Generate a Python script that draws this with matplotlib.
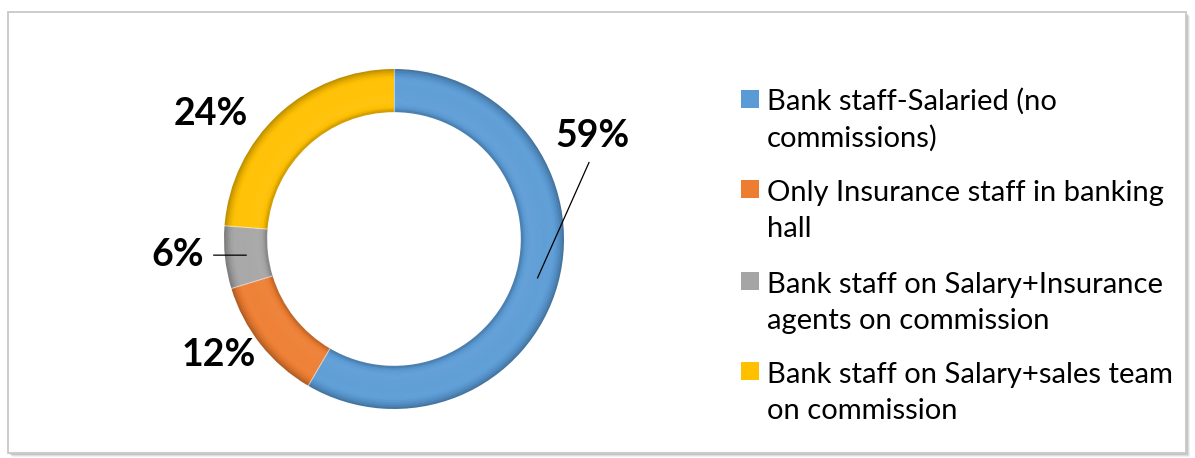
import matplotlib
matplotlib.use("Agg")
import matplotlib.pyplot as plt
from matplotlib.patches import Rectangle
import matplotlib.colors as mcolors
import numpy as np

# Distribution of bancassurance sales staffing models
categories = [
    "Bank staff-Salaried (no\ncommissions)",
    "Only Insurance staff in banking\nhall",
    "Bank staff on Salary+Insurance\nagents on commission",
    "Bank staff on Salary+sales team\non commission",
]
shares = [59, 12, 6, 24]
colors = ["#5B9BD5", "#ED7D31", "#A5A5A5", "#FFC000"]

W, H = 1195, 458
fig = plt.figure(figsize=(W / 100, H / 100), dpi=100)
fig.patch.set_facecolor("white")

def px(x, y):
    """Pixel (from top-left) to figure fraction."""
    return x / W, 1 - y / H

# chart frame with soft shadow
for k, a in enumerate([0.10, 0.16, 0.25]):
    off = 4 - k
    fig.patches.append(Rectangle(px(8 + off, 453 + off), (1178) / W, (441) / H,
                                 transform=fig.transFigure, facecolor="#7f7f7f",
                                 edgecolor="none", alpha=a, zorder=0))
fig.patches.append(Rectangle(px(8, 453), 1178 / W, 441 / H, transform=fig.transFigure,
                             facecolor="white", edgecolor="#C8C8C8", lw=1.3, zorder=1))

# donut axes: centre (394, 239) px, outer radius 170 px
cx, cy, R = 394, 239, 170
x0, y0 = px(cx - R, cy + R)
ax = fig.add_axes([x0, y0, 2 * R / W, 2 * R / H])
ax.set_aspect("equal")
ax.axis("off")
ax.set_zorder(2)

ring = 0.25
inner = 1 - ring

def shade(c, f):
    rgb = np.array(mcolors.to_rgb(c))
    if f >= 1:
        rgb = rgb + (1 - rgb) * (f - 1)
    else:
        rgb = rgb * f
    return tuple(np.clip(rgb, 0, 1))

# bevelled ring: concentric bands with a radial light profile
n = 24
profile_t = [0.0, 0.08, 0.2, 0.5, 0.75, 0.88, 1.0]   # 0 = inner edge, 1 = outer edge
profile_f = [0.78, 0.97, 1.06, 1.03, 1.04, 0.92, 0.72]
for i in range(n):
    t0 = i / n
    t_mid = 1 - (i + 0.5) / n
    f = np.interp(t_mid, profile_t, profile_f)
    r_out = 1 - t0 * ring
    ax.pie(shares, radius=r_out, startangle=90, counterclock=False,
           colors=[shade(c, f) for c in colors],
           wedgeprops=dict(width=ring / n + 0.004, linewidth=0))
ax.set_xlim(-1, 1)
ax.set_ylim(-1, 1)

# thin separators between slices
fracs = np.array(shares) / np.sum(shares)
bounds = 90 - 360 * np.concatenate([[0], np.cumsum(fracs)])
for b in bounds[:-1]:
    th = np.deg2rad(b)
    ax.plot([inner * np.cos(th), np.cos(th)], [inner * np.sin(th), np.sin(th)],
            color="white", lw=0.8, alpha=0.5)

# percentage labels
mids = 90 - 360 * (np.cumsum(fracs) - fracs / 2)
rm = 1 - ring / 2
label_pos = [(1.165, 0.605), (-1.03, -0.68), (-1.275, -0.095), (-1.08, 0.735)]
leader = [(1.147, 0.45), None, (-1.06, -0.095), None]
for v, m, (lx, ly), ld in zip(shares, mids, label_pos, leader):
    ax.text(lx, ly, f"{v}%", ha="center", va="center", fontsize=27,
            fontweight="bold", family="Lato", color="black", clip_on=False)
    if ld is not None:
        th = np.deg2rad(m)
        ax.plot([ld[0], rm * np.cos(th)], [ld[1], rm * np.sin(th)],
                color="black", lw=0.9, clip_on=False, zorder=5)

# legend
sq = 18
line_gap = 39
entry_tops = [90, 180, 272, 362]
for lab, c, top in zip(categories, colors, entry_tops):
    fig.patches.append(Rectangle(px(741, top + sq), sq / W, sq / H,
                                 transform=fig.transFigure, facecolor=c,
                                 edgecolor="none", zorder=3))
    nlines = lab.count("\n") + 1
    tx, ty = px(767, top + 18 + line_gap * (nlines - 1))
    fig.text(tx, ty, lab, ha="left", va="baseline", fontsize=21,
             family="Lato", color="black", linespacing=1.47, zorder=4)

fig.savefig("out.png", dpi=100)
